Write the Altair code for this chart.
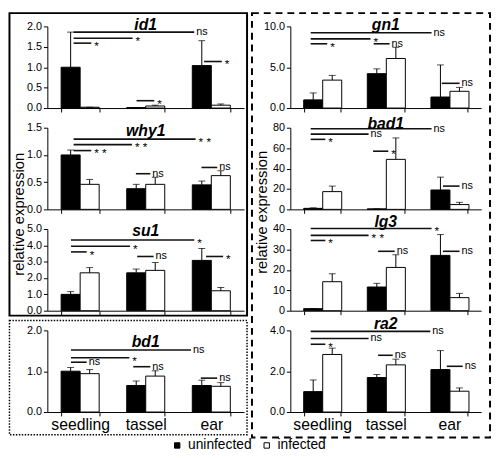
import altair as alt
import pandas as pd

stages = ["seedling", "tassel", "ear"]
groups = ["uninfected", "infected"]

# ---- bar heights and error-bar tops (mean + SD) ----
id1_uninf = [1.00, 0.01, 1.04]
id1_uninf_top = [1.86, 0.01, 1.65]
id1_inf = [0.02, 0.05, 0.07]
id1_inf_top = [0.02, 0.07, 0.10]

why1_uninf = [1.00, 0.38, 0.45]
why1_uninf_top = [1.09, 0.46, 0.52]
why1_inf = [0.46, 0.46, 0.62]
why1_inf_top = [0.55, 0.59, 0.71]

su1_uninf = [1.00, 2.32, 3.08]
su1_uninf_top = [1.17, 2.55, 3.81]
su1_inf = [2.32, 2.47, 1.22]
su1_inf_top = [2.64, 2.95, 1.42]

bd1_uninf = [1.00, 0.65, 0.65]
bd1_uninf_top = [1.09, 0.76, 0.78]
bd1_inf = [0.94, 0.88, 0.63]
bd1_inf_top = [1.04, 1.01, 0.72]

gn1_uninf = [1.00, 4.21, 1.35]
gn1_uninf_top = [1.85, 4.80, 5.28]
gn1_inf = [3.42, 6.07, 2.05]
gn1_inf_top = [4.00, 7.44, 2.53]

bad1_uninf = [1.0, 0.5, 19.0]
bad1_uninf_top = [1.5, 0.5, 31.6]
bad1_inf = [17.4, 49.0, 4.7]
bad1_inf_top = [22.8, 70.0, 6.9]

lg3_uninf = [1.0, 11.6, 27.1]
lg3_uninf_top = [1.0, 13.4, 37.3]
lg3_inf = [14.2, 21.2, 6.4]
lg3_inf_top = [18.1, 27.4, 8.5]

ra2_uninf = [1.00, 1.69, 2.08]
ra2_uninf_top = [1.57, 1.84, 3.01]
ra2_inf = [2.82, 2.31, 1.02]
ra2_inf_top = [3.13, 2.59, 1.18]

# ---- significance brackets: from / to (in stage units 0..3), height, label ----
id1_sig_from = [0.40, 0.40, 0.40, 1.36, 2.39]
id1_sig_to = [2.24, 1.30, 0.67, 1.63, 2.66]
id1_sig_y = [1.86, 1.71, 1.59, 0.18, 1.14]
id1_sig_text = ["ns", "*", "*", "*", "*"]

why1_sig_from = [0.40, 0.40, 0.40, 1.35, 2.35]
why1_sig_to = [2.26, 1.29, 0.67, 1.57, 2.59]
why1_sig_y = [1.29, 1.19, 1.08, 0.655, 0.77]
why1_sig_text = ["* *", "* *", "* *", "ns", "ns"]

su1_sig_from = [0.36, 0.36, 0.36, 1.37, 2.42]
su1_sig_to = [2.24, 1.26, 0.60, 1.62, 2.68]
su1_sig_y = [4.33, 3.95, 3.60, 3.32, 3.32]
su1_sig_text = ["*", "*", "*", "ns", "*"]

bd1_sig_from = [0.36, 0.36, 0.36, 1.31, 2.34]
bd1_sig_to = [2.19, 1.25, 0.60, 1.57, 2.59]
bd1_sig_y = [1.52, 1.33, 1.22, 1.11, 0.83]
bd1_sig_text = ["ns", "*", "ns", "ns", "ns"]

gn1_sig_from = [0.32, 0.32, 0.32, 1.31, 2.38]
gn1_sig_to = [2.22, 1.26, 0.58, 1.56, 2.66]
gn1_sig_y = [9.22, 8.47, 7.87, 7.87, 3.03]
gn1_sig_text = ["ns", "*", "*", "ns", "ns"]

bad1_sig_from = [0.32, 0.32, 0.32, 1.30, 2.40]
bad1_sig_to = [2.22, 1.23, 0.55, 1.54, 2.66]
bad1_sig_y = [79.0, 73.7, 68.6, 57.0, 22.8]
bad1_sig_text = ["ns", "ns", "*", "*", "ns"]

lg3_sig_from = [0.32, 0.32, 0.32, 1.38, 2.40]
lg3_sig_to = [2.22, 1.23, 0.55, 1.64, 2.66]
lg3_sig_y = [40.3, 36.9, 34.4, 29.1, 29.1]
lg3_sig_text = ["*", "* *", "*", "ns", "ns"]

ra2_sig_from = [0.32, 0.32, 0.32, 1.38, 2.46]
ra2_sig_to = [2.20, 1.23, 0.55, 1.61, 2.71]
ra2_sig_y = [3.95, 3.60, 3.32, 2.78, 2.24]
ra2_sig_text = ["ns", "ns", "*", "ns", "ns"]

FONT = "Liberation Sans, Arial"
NARROW = "Liberation Sans Narrow, Arial Narrow, Liberation Sans"
LW, RW, PH = 200, 194, 83

LEGEND = alt.Legend(
    orient="none", legendX=125, legendY=419, direction="horizontal", title=None,
    symbolType="square", symbolSize=30, symbolStrokeColor="black", symbolStrokeWidth=1,
    labelFontSize=14, labelFont=FONT, labelColor="black", labelOffset=4, columnPadding=8,
)


def one_row(text):
    return pd.DataFrame({"t": [text]})


def frame(x1, x2, y1, y2, width, dash=None):
    kw = dict(fill="transparent", stroke="black", strokeWidth=width)
    if dash:
        kw["strokeDash"] = dash
    return alt.Chart(one_row("")).mark_rect(**kw).encode(
        x=alt.value(x1), x2=alt.value(x2), y=alt.value(y1), y2=alt.value(y2))


def ytitle(y):
    return alt.Chart(one_row("relative expression")).mark_text(
        angle=270, fontSize=15, font=FONT, color="black", align="center", baseline="middle"
    ).encode(text="t:N", x=alt.value(-29), y=alt.value(y))


def panel(name, uninf, uninf_top, inf, inf_top, sfrom, sto, sy, stext,
          ymax, ticks, fmt, width, show_x, title_y, extra=()):
    bars_df = pd.DataFrame({
        "stage": stages * 2,
        "group": [groups[0]] * 3 + [groups[1]] * 3,
        "mean": uninf + inf,
        "top": uninf_top + inf_top,
    })
    sig_df = pd.DataFrame({"x1": sfrom, "x2": sto, "y": sy, "label": stext})
    yscale = alt.Scale(domain=[0, ymax], nice=False, zero=True)
    yaxis = alt.Axis(title=None, values=ticks, format=fmt, grid=False)
    xscale = alt.Scale(domain=stages, paddingInner=0.42, paddingOuter=0.21)
    xaxis = alt.Axis(title=None, labels=show_x, tickBand="extent", grid=False, labelAngle=0,
                     labelFont=NARROW, labelFontSize=16)
    X = alt.X("stage:N", sort=stages, scale=xscale, axis=xaxis)
    XO = alt.XOffset("group:N", sort=groups,
                     scale=alt.Scale(domain=groups, paddingInner=0, paddingOuter=0))
    base = alt.Chart(bars_df)
    bars = base.mark_bar(stroke="black", strokeWidth=1).encode(
        x=X, xOffset=XO,
        y=alt.Y("mean:Q", scale=yscale, axis=yaxis),
        fill=alt.Fill("group:N", scale=alt.Scale(domain=groups, range=["black", "white"]),
                      legend=LEGEND),
    )
    err = base.mark_rule(color="black", strokeWidth=1).encode(
        x=X, xOffset=XO, y=alt.Y("mean:Q", scale=yscale, axis=yaxis), y2="top:Q")
    cap = base.mark_tick(color="black", size=7, thickness=1, orient="horizontal").encode(
        x=X, xOffset=XO, y=alt.Y("top:Q", scale=yscale, axis=yaxis))
    bar_layer = alt.layer(bars, err, cap)

    sx = alt.Scale(domain=[0, 3], nice=False, zero=False)
    sig_base = alt.Chart(sig_df)
    sig = sig_base.mark_rule(color="#111111", strokeWidth=1.6).encode(
        x=alt.X("x1:Q", scale=sx, axis=None), x2="x2:Q",
        y=alt.Y("y:Q", scale=yscale, axis=yaxis))
    lab_enc = dict(x=alt.X("x2:Q", scale=sx, axis=None),
                   y=alt.Y("y:Q", scale=yscale, axis=yaxis), text="label:N")
    lab_ns = sig_base.transform_filter(alt.datum.label == "ns").mark_text(
        align="left", baseline="middle", dx=2, fontSize=11, font=FONT, color="black"
    ).encode(**lab_enc)
    lab_star = sig_base.transform_filter(alt.datum.label != "ns").mark_text(
        align="left", baseline="middle", dx=3, dy=3, fontSize=12, font=FONT, color="black"
    ).encode(**lab_enc)
    title = alt.Chart(one_row(name)).mark_text(
        fontSize=16, fontStyle="italic", fontWeight="bold", font=NARROW, color="black",
        align="center", baseline="alphabetic"
    ).encode(text="t:N", x=alt.value(width / 2), y=alt.value(title_y))

    layers = list(extra) + [bar_layer, sig, lab_ns, lab_star, title]
    return alt.layer(*layers).resolve_scale(x="independent").properties(width=width, height=PH)


p_id1 = panel("id1", id1_uninf, id1_uninf_top, id1_inf, id1_inf_top,
              id1_sig_from, id1_sig_to, id1_sig_y, id1_sig_text,
              2, [0, 0.5, 1, 1.5, 2], ".1f", LW, False, 4,
              extra=[frame(-38.5, 203, -13.5, 294, 2), ytitle(191)])
p_why1 = panel("why1", why1_uninf, why1_uninf_top, why1_inf, why1_inf_top,
               why1_sig_from, why1_sig_to, why1_sig_y, why1_sig_text,
               1.5, [0, 0.5, 1, 1.5], ".1f", LW, False, 8)
p_su1 = panel("su1", su1_uninf, su1_uninf_top, su1_inf, su1_inf_top,
              su1_sig_from, su1_sig_to, su1_sig_y, su1_sig_text,
              5, [0, 1, 2, 3, 4, 5], ".1f", LW, False, 7)
p_bd1 = panel("bd1", bd1_uninf, bd1_uninf_top, bd1_inf, bd1_inf_top,
              bd1_sig_from, bd1_sig_to, bd1_sig_y, bd1_sig_text,
              2, [0, 1, 2], ".1f", LW, True, 17,
              extra=[frame(-38.5, 203, -10, 106, 1.5, [1.5, 1.5])])

p_gn1 = panel("gn1", gn1_uninf, gn1_uninf_top, gn1_inf, gn1_inf_top,
              gn1_sig_from, gn1_sig_to, gn1_sig_y, gn1_sig_text,
              10, [0, 5, 10], ".1f", RW, False, 4,
              extra=[frame(-39, 203, -13.5, 418, 2, [7, 5]), ytitle(189)])
p_bad1 = panel("bad1", bad1_uninf, bad1_uninf_top, bad1_inf, bad1_inf_top,
               bad1_sig_from, bad1_sig_to, bad1_sig_y, bad1_sig_text,
               80, [0, 20, 40, 60, 80], "d", RW, False, 1)
p_lg3 = panel("lg3", lg3_uninf, lg3_uninf_top, lg3_inf, lg3_inf_top,
              lg3_sig_from, lg3_sig_to, lg3_sig_y, lg3_sig_text,
              40, [0, 10, 20, 30, 40], "d", RW, False, -2)
p_ra2 = panel("ra2", ra2_uninf, ra2_uninf_top, ra2_inf, ra2_inf_top,
              ra2_sig_from, ra2_sig_to, ra2_sig_y, ra2_sig_text,
              4, [0, 2, 4], ".1f", RW, True, -1)

chart = alt.concat(
    p_id1, p_gn1, p_why1, p_bad1, p_su1, p_lg3, p_bd1, p_ra2,
    columns=2, bounds="flush", spacing={"row": 20, "column": 47},
).properties(
    padding=0, background="white"
).configure_view(stroke="transparent").configure_axis(
    domainColor="black", tickColor="black", labelColor="black", labelFont=FONT,
    grid=False, tickSize=4, domainWidth=1, tickWidth=1,
).configure_axisY(labelFontSize=11, labelPadding=2).configure_axisX(labelPadding=1)

chart.save("out.html", embed_options={"renderer": "svg", "actions": False})
